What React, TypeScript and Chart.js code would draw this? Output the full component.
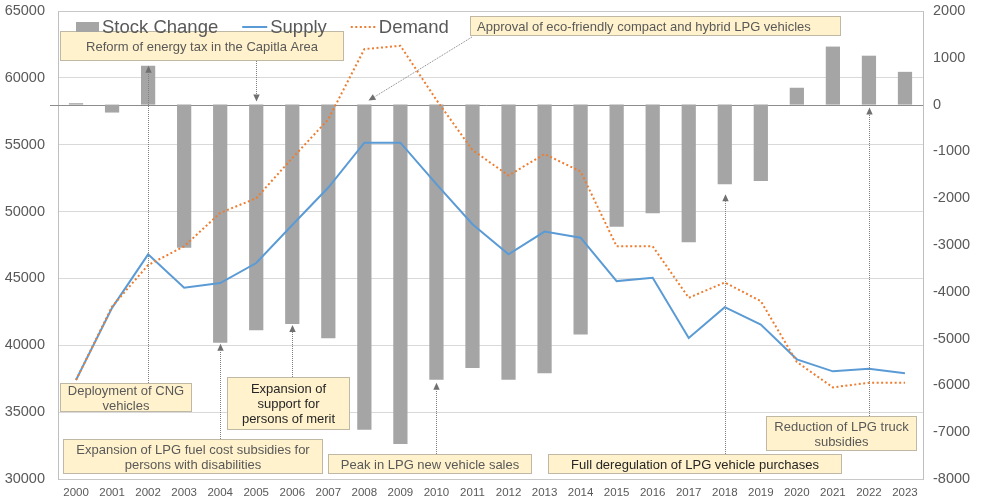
import React, { useEffect, useRef } from 'react';
import Chart from 'chart.js/auto';

const years = ['2000', '2001', '2002', '2003', '2004', '2005', '2006', '2007', '2008', '2009', '2010', '2011',
  '2012', '2013', '2014', '2015', '2016', '2017', '2018', '2019', '2020', '2021', '2022', '2023'];

const stockChange = [30, -170, 830, -3060, -5090, -4820, -4690, -4990, -6950, -7250, -5880, -5630,
  -5880, -5740, -4910, -2610, -2320, -2940, -1700, -1630, 360, 1240, 1045, 700];

const supply = [37400, 42800, 46800, 44300, 44650, 46150, 49000, 51800, 55150, 55150, 52050, 49050,
  46800, 48500, 48050, 44800, 45050, 40550, 42850, 41550, 38950, 38050, 38250, 37900];

const demand = [37400, 42900, 46000, 47400, 49900, 51000, 54000, 56900, 62150, 62400, 58350, 54600,
  52700, 54300, 53000, 47400, 47400, 43550, 44700, 43300, 38750, 36850, 37200, 37200];

const leftAxis = { min: 30000, max: 65000, step: 5000 };
const rightAxis = { min: -8000, max: 2000, step: 1000 };

const seriesNames = ['Stock Change', 'Supply', 'Demand'];

const FONT = "'Liberation Sans', Arial, sans-serif";
const TEXT = '#595959';
const BAR = '#a5a5a5';
const BLUE = '#5b9bd5';
const ORANGE = '#ed7d31';

type Note = {
  lines: string[];
  box: [number, number, number, number];
  dark?: boolean;
  textX?: number;
  arrow: { index: number; target: 'bar' | 'zero'; offset: number; dx?: number; fromX?: number; fromY: number };
};

const notes: Note[] = [
  { lines: ['Reform of energy tax in the Capitla Area'], box: [60, 31, 344, 61],
    arrow: { index: 5, target: 'zero', offset: -3, fromY: 61 } },
  { lines: ['Approval of eco-friendly compact and hybrid LPG vehicles'], box: [470, 16, 841, 36], textX: 477,
    arrow: { index: 8, target: 'zero', offset: -4, dx: 4, fromX: 472, fromY: 37 } },
  { lines: ['Deployment of CNG', 'vehicles'], box: [60, 383, 192, 412],
    arrow: { index: 2, target: 'bar', offset: 0, fromY: 383 } },
  { lines: ['Expansion of', 'support for', 'persons of merit'], box: [227, 377, 350, 430], dark: true,
    arrow: { index: 6, target: 'bar', offset: 1, fromY: 377 } },
  { lines: ['Expansion of LPG fuel cost subsidies for', 'persons with disabilities'], box: [63, 439, 323, 474],
    arrow: { index: 4, target: 'bar', offset: 1, fromY: 439 } },
  { lines: ['Peak in LPG new vehicle sales'], box: [328, 454, 532, 474],
    arrow: { index: 10, target: 'bar', offset: 3, fromY: 454 } },
  { lines: ['Full deregulation of LPG vehicle purchases'], box: [548, 454, 842, 474], dark: true,
    arrow: { index: 18, target: 'bar', offset: 10, fromY: 454 } },
  { lines: ['Reduction of LPG truck', 'subsidies'], box: [766, 416, 917, 451],
    arrow: { index: 22, target: 'zero', offset: 3, fromY: 416 } },
];

function drawArrow(ctx: CanvasRenderingContext2D, x0: number, y0: number, x1: number, y1: number) {
  const ang = Math.atan2(y1 - y0, x1 - x0);
  const L = 7, W = 3.2;
  const bx = x1 - Math.cos(ang) * L;
  const by = y1 - Math.sin(ang) * L;
  ctx.save();
  ctx.strokeStyle = '#7f7f7f';
  ctx.lineWidth = 1;
  ctx.setLineDash([1, 1]);
  ctx.beginPath();
  ctx.moveTo(x0, y0);
  ctx.lineTo(bx, by);
  ctx.stroke();
  ctx.setLineDash([]);
  ctx.fillStyle = '#6f6f6f';
  ctx.beginPath();
  ctx.moveTo(x1, y1);
  ctx.lineTo(bx - Math.sin(ang) * W, by + Math.cos(ang) * W);
  ctx.lineTo(bx + Math.sin(ang) * W, by - Math.cos(ang) * W);
  ctx.closePath();
  ctx.fill();
  ctx.restore();
}

const overlayPlugin = {
  id: 'overlay',
  beforeDatasetsDraw(chart: any) {
    const ctx: CanvasRenderingContext2D = chart.ctx;
    const { left, right, top } = chart.chartArea;
    const y1 = chart.scales.y1;
    ctx.save();
    ctx.strokeStyle = '#c8c8c8';
    ctx.lineWidth = 1;
    ctx.beginPath();
    ctx.moveTo(left, Math.round(top) + 0.5);
    ctx.lineTo(right, Math.round(top) + 0.5);
    ctx.stroke();
    const z = Math.round(y1.getPixelForValue(0)) + 0.5;
    ctx.strokeStyle = '#8c8c8c';
    ctx.beginPath();
    ctx.moveTo(left - 8, z);
    ctx.lineTo(right, z);
    ctx.stroke();
    ctx.restore();
  },
  afterDatasetsDraw(chart: any) {
    const ctx: CanvasRenderingContext2D = chart.ctx;
    const xs = chart.scales.x;
    const y1 = chart.scales.y1;
    notes.forEach((n) => {
      const a = n.arrow;
      const cx = Math.round(xs.getPixelForValue(a.index)) + 0.5 + (a.dx || 0);
      const val = a.target === 'bar' ? stockChange[a.index] : 0;
      const ty = y1.getPixelForValue(val) + a.offset;
      const fx = a.fromX !== undefined ? a.fromX : cx;
      drawArrow(ctx, fx, a.fromY, cx, ty);
    });
    notes.forEach((n) => {
      const [x0, y0, x1, yb] = n.box;
      ctx.save();
      ctx.fillStyle = '#fff2cc';
      ctx.fillRect(x0, y0, x1 - x0, yb - y0);
      ctx.strokeStyle = '#7f7f7f';
      ctx.lineWidth = 1;
      ctx.setLineDash([1, 1]);
      ctx.strokeRect(x0 + 0.5, y0 + 0.5, x1 - x0 - 1, yb - y0 - 1);
      ctx.setLineDash([]);
      ctx.fillStyle = n.dark ? '#262626' : TEXT;
      ctx.font = `13px ${FONT}`;
      ctx.textBaseline = 'middle';
      const lh = 15;
      const cy = (y0 + yb) / 2 + 1;
      const startY = cy - ((n.lines.length - 1) * lh) / 2;
      n.lines.forEach((line, i) => {
        if (n.textX !== undefined) {
          ctx.textAlign = 'left';
          ctx.fillText(line, n.textX, startY + i * lh);
        } else {
          ctx.textAlign = 'center';
          ctx.fillText(line, (x0 + x1) / 2, startY + i * lh);
        }
      });
      ctx.restore();
    });
  },
  afterDraw(chart: any) {
    const ctx: CanvasRenderingContext2D = chart.ctx;
    ctx.save();
    ctx.font = `18.5px ${FONT}`;
    ctx.textBaseline = 'middle';
    ctx.textAlign = 'left';
    let x = 76;
    const cy = 27;
    seriesNames.forEach((name, i) => {
      if (i === 0) {
        ctx.fillStyle = BAR;
        ctx.fillRect(x, cy - 5, 23, 10);
        x += 23;
      } else if (i === 1) {
        ctx.strokeStyle = BLUE;
        ctx.lineWidth = 2;
        ctx.beginPath();
        ctx.moveTo(x, cy);
        ctx.lineTo(x + 25, cy);
        ctx.stroke();
        x += 25;
      } else {
        ctx.strokeStyle = ORANGE;
        ctx.lineWidth = 2;
        ctx.setLineDash([2, 2.5]);
        ctx.beginPath();
        ctx.moveTo(x, cy);
        ctx.lineTo(x + 25, cy);
        ctx.stroke();
        ctx.setLineDash([]);
        x += 25;
      }
      x += 3;
      ctx.fillStyle = TEXT;
      ctx.fillText(name, x, cy + 1);
      x += ctx.measureText(name).width + 24;
    });
    ctx.restore();
  },
};

const fitVertical = (w: number) => (s: any) => {
  s.width = w;
  s.paddingTop = 0;
  s.paddingBottom = 0;
};

export default function App() {
  const ref = useRef<HTMLCanvasElement | null>(null);

  useEffect(() => {
    if (!ref.current) return;
    const chart = new Chart(ref.current, {
      type: 'bar',
      data: {
        labels: years,
        datasets: [
          {
            type: 'line',
            label: seriesNames[2],
            data: demand,
            yAxisID: 'y',
            borderColor: ORANGE,
            backgroundColor: ORANGE,
            borderWidth: 2,
            borderDash: [2, 2.5],
            pointRadius: 0,
            tension: 0,
            order: 1,
          } as any,
          {
            type: 'line',
            label: seriesNames[1],
            data: supply,
            yAxisID: 'y',
            borderColor: BLUE,
            backgroundColor: BLUE,
            borderWidth: 2,
            pointRadius: 0,
            tension: 0,
            order: 2,
          } as any,
          {
            type: 'bar',
            label: seriesNames[0],
            data: stockChange,
            yAxisID: 'y1',
            backgroundColor: BAR,
            barPercentage: 0.395,
            categoryPercentage: 1,
            order: 3,
          } as any,
        ],
      },
      options: {
        responsive: true,
        maintainAspectRatio: false,
        animation: false,
        layout: { padding: { top: 11, left: 0, right: 0, bottom: 0 } },
        plugins: {
          legend: { display: false },
          tooltip: { enabled: false },
        },
        scales: {
          x: {
            type: 'category',
            offset: true,
            grid: { display: false, drawTicks: false },
            border: { display: true, color: '#c8c8c8' },
            ticks: { color: TEXT, font: { family: FONT, size: 11.5 }, padding: 7, maxRotation: 0, autoSkip: false },
            afterFit: (s: any) => { s.height = 24; },
          },
          y: {
            position: 'left',
            min: leftAxis.min,
            max: leftAxis.max,
            ticks: {
              stepSize: leftAxis.step,
              color: TEXT,
              font: { family: FONT, size: 14.5 },
              padding: 13,
              callback: (v: any) => String(v),
            },
            grid: { color: '#d9d9d9', drawTicks: false },
            border: { display: true, color: '#bfbfbf' },
            afterFit: fitVertical(58),
          },
          y1: {
            position: 'right',
            min: rightAxis.min,
            max: rightAxis.max,
            ticks: {
              stepSize: rightAxis.step,
              color: TEXT,
              font: { family: FONT, size: 14.5 },
              padding: 10,
              callback: (v: any) => String(v),
            },
            grid: { display: false, drawTicks: false },
            border: { display: true, color: '#bfbfbf' },
            afterFit: fitVertical(58),
          },
        },
      },
      plugins: [overlayPlugin],
    } as any);
    return () => chart.destroy();
  }, []);

  return (
    <div style={{ position: 'absolute', left: 0, top: 0, width: '981px', height: '503px', background: '#fff' }}>
      <canvas ref={ref} />
    </div>
  );
}
